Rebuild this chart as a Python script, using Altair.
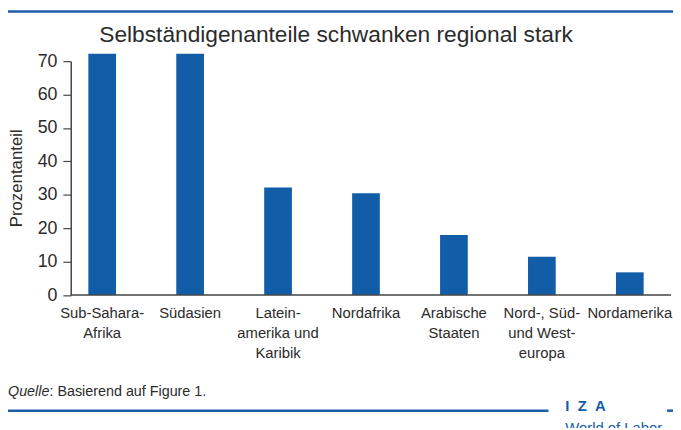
import altair as alt
import pandas as pd

regions = ["Sub-Sahara-|Afrika", "Südasien", "Latein-|amerika und|Karibik", "Nordafrika",
           "Arabische|Staaten", "Nord-, Süd-|und West-|europa", "Nordamerika"]
values = [72.2, 72.2, 32.2, 30.5, 18.0, 11.5, 6.8]
y_ticks = [0, 10, 20, 30, 40, 50, 60, 70]

title_text = "Selbständigenanteile schwanken regional stark"
source_label = "Quelle"
source_text = ": Basierend auf Figure 1."
logo_top = "I\u00a0\u00a0Z\u00a0\u00a0A"
logo_bottom = "World of Labor"

df = pd.DataFrame({"region": regions, "value": values})

FONT = "Liberation Sans"
TXT = "#2b2b2b"
BLUE = "#125da8"
W, H = 597.6, 236.7

bars = alt.Chart(df).mark_bar(color=BLUE).encode(
    x=alt.X("region:N", sort=regions,
            scale=alt.Scale(paddingInner=0.685, paddingOuter=0.2),
            axis=alt.Axis(title=None, labelAngle=0, domain=False, ticks=False,
                          labelExpr="split(datum.label, '|')", labelFontSize=15,
                          labelLineHeight=20, labelPadding=11, labelBaseline="top",
                          labelFont=FONT, labelColor=TXT)),
    y=alt.Y("value:Q", scale=alt.Scale(domain=[0, 70], nice=False),
            axis=alt.Axis(values=y_ticks, tickCount=8, title="Prozentanteil", grid=False,
                          labelOverlap=False, labelFlush=False,
                          titleFont=FONT, titleFontSize=17, titleFontWeight="normal",
                          titleColor=TXT, titleAngle=-90, titleX=-54.5, titleY=118,
                          titleAlign="center", titleBaseline="middle",
                          labelFont=FONT, labelFontSize=18, labelColor=TXT,
                          labelPadding=6, tickSize=8, tickColor="#444",
                          domainColor="#444", domainWidth=1.5, tickWidth=1.2)),
)

xline = alt.Chart(pd.DataFrame({"v": [0]})).mark_rule(color="#444", strokeWidth=1.5).encode(
    x=alt.value(0), x2=alt.value(607.5), y=alt.value(H))


def text_layer(t, x, y, **kw):
    return alt.Chart(pd.DataFrame({"t": [t]})).mark_text(**kw).encode(
        text="t:N", x=alt.value(x), y=alt.value(y))


title = text_layer(title_text, 268.5, -19.3, font=FONT, fontSize=23, color=TXT,
                   align="center", baseline="alphabetic")
src1 = text_layer(source_label, -63.5, 338.7, font=FONT, fontSize=14.5, color=TXT,
                  fontStyle="italic", align="left", baseline="alphabetic")
src2 = text_layer(source_text, -21.5, 338.7, font=FONT, fontSize=14.5, color=TXT,
                  align="left", baseline="alphabetic")
logo1 = text_layer(logo_top, 500.5, 353.7, font=FONT, fontSize=15,
                   fontWeight="bold", color=BLUE, align="left", baseline="alphabetic")
logo2 = text_layer(logo_bottom, 500.5, 376.7, font=FONT, fontSize=15,
                   color=BLUE, align="left", baseline="alphabetic")

frame = pd.DataFrame({"x": [-63.5, -63.5, 603.5], "x2": [609.5, 483.5, 609.5],
                      "y": [-50.3, 353.7, 353.7]})
frame_lines = alt.Chart(frame).mark_rule(color="#1b5faa", strokeWidth=2.5).encode(
    x=alt.X("x:Q", scale=None), x2="x2:Q", y=alt.Y("y:Q", scale=None))

chart = alt.layer(bars, xline, title, src1, src2, logo1, logo2, frame_lines).properties(
    width=W, height=H,
    autosize=alt.AutoSizeParams(type="none"),
    padding={"left": 63.5, "top": 51.3, "right": 11.9, "bottom": 132},
).configure_view(stroke=None)

chart.save("out.html", embed_options={"renderer": "svg", "actions": False})
